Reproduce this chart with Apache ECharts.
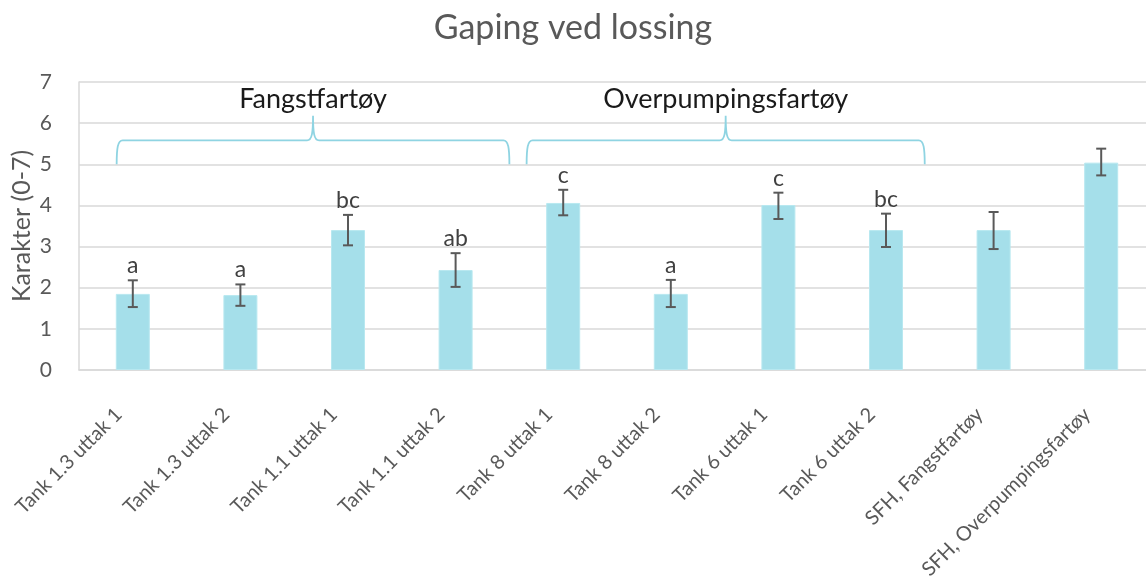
<!DOCTYPE html>
<html>
<head>
<meta charset="utf-8">
<script src="https://cdn.jsdelivr.net/npm/echarts@6/dist/echarts.min.js"></script>
<style>
html,body{margin:0;padding:0;background:#fff;}
#chart{width:1146px;height:576px;}
</style>
</head>
<body>
<div id="chart"></div>
<script>
// ---- data ----
var titleText = 'Gaping ved lossing';
var yAxisName = 'Karakter (0-7)';
var categories = ['Tank 1.3 uttak 1','Tank 1.3 uttak 2','Tank 1.1 uttak 1','Tank 1.1 uttak 2','Tank 8 uttak 1','Tank 8 uttak 2','Tank 6 uttak 1','Tank 6 uttak 2','SFH, Fangstfartøy','SFH, Overpumpingsfartøy'];
var values  = [1.85, 1.82, 3.40, 2.43, 4.06, 1.85, 4.01, 3.40, 3.40, 5.04];
var errLow  = [1.53, 1.56, 3.03, 2.02, 3.76, 1.53, 3.67, 2.99, 2.94, 4.73];
var errHigh = [2.18, 2.08, 3.77, 2.84, 4.38, 2.19, 4.31, 3.80, 3.84, 5.38];
var letters = ['a','a','bc','ab','c','a','c','bc','',''];
var groupNames = ['Fangstfartøy','Overpumpingsfartøy'];
var groupStart = [-0.15, 3.66];   // in category units
var groupEnd   = [3.50, 7.36];

var FONT = 'Lato, "Open Sans", sans-serif';
var chart = echarts.init(document.getElementById('chart'));

function bandX(api, t){
  var p0 = api.coord([0, 0]), p1 = api.coord([1, 0]);
  return p0[0] + t * (p1[0] - p0[0]);
}

var option = {
  backgroundColor: '#fff',
  animation: false,
  title: {
    text: titleText, left: 'center', top: 6,
    textStyle: {fontFamily: FONT, fontSize: 34, fontWeight: 'normal', color: '#595959'}
  },
  grid: {left: 79, top: 82, width: 1076, height: 288, containLabel: false, outerBoundsMode: 'none'},
  xAxis: {
    type: 'category', data: categories,
    axisTick: {show: false},
    axisLine: {lineStyle: {color: '#d9d9d9', width: 1.5}},
    axisLabel: {interval: 0, rotate: 45, margin: 27, padding: [0, 20, 0, 0], fontFamily: FONT, fontSize: 20, color: '#595959'}
  },
  yAxis: {
    type: 'value', min: 0, max: 7, interval: 1,
    name: yAxisName, nameLocation: 'middle', nameGap: 45, nameMoveOverlap: false,
    nameTextStyle: {fontFamily: FONT, fontSize: 25, color: '#595959'},
    axisLine: {show: true, lineStyle: {color: '#d9d9d9', width: 1.5}},
    axisTick: {show: false},
    splitLine: {lineStyle: {color: '#d9d9d9', width: 1.5}},
    axisLabel: {margin: 27, fontFamily: FONT, fontSize: 21, color: '#595959'}
  },
  series: [
    {
      type: 'bar', data: values, barWidth: 34,
      itemStyle: {color: '#a5dfea', borderColor: '#b8e8f0', borderWidth: 1},
      silent: true
    },
    {
      type: 'custom',
      data: values.map(function(v, i){ return [i, errLow[i], errHigh[i]]; }),
      encode: {x: 0, y: [1, 2]},
      renderItem: function(params, api){
        var i = params.dataIndex;
        var lo = api.coord([i, errLow[i]]);
        var hi = api.coord([i, errHigh[i]]);
        var x = lo[0], cap = 5;
        var st = {stroke: '#595959', lineWidth: 2};
        var children = [
          {type: 'line', shape: {x1: x, y1: lo[1], x2: x, y2: hi[1]}, style: st},
          {type: 'line', shape: {x1: x - cap, y1: lo[1], x2: x + cap, y2: lo[1]}, style: st},
          {type: 'line', shape: {x1: x - cap, y1: hi[1], x2: x + cap, y2: hi[1]}, style: st}
        ];
        if (letters[i]) {
          children.push({type: 'text', style: {text: letters[i], x: x, y: hi[1] - 3,
            textAlign: 'center', textVerticalAlign: 'bottom',
            fontFamily: FONT, fontSize: 23, fill: '#404040'}});
        }
        return {type: 'group', children: children};
      },
      z: 5
    },
    {
      type: 'custom',
      data: groupNames.map(function(n, i){ return [i, 5]; }),
      encode: {x: 0, y: 1},
      renderItem: function(params, api){
        var g = params.dataIndex;
        var x0 = bandX(api, groupStart[g]);
        var x1 = bandX(api, groupEnd[g]);
        var xm = (x0 + x1) / 2;
        var yb = api.coord([0, 5])[1];
        var yh = api.coord([0, 5.58])[1];
        var yt = api.coord([0, 6.18])[1];
        var d = 'M' + x0 + ' ' + yb +
          ' C' + x0 + ' ' + (yh + 8) + ' ' + (x0 + 1) + ' ' + yh + ' ' + (x0 + 6) + ' ' + yh +
          ' L' + (xm - 6) + ' ' + yh +
          ' C' + (xm - 1) + ' ' + yh + ' ' + xm + ' ' + (yh - 8) + ' ' + xm + ' ' + yt +
          ' C' + xm + ' ' + (yh - 8) + ' ' + (xm + 1) + ' ' + yh + ' ' + (xm + 6) + ' ' + yh +
          ' L' + (x1 - 6) + ' ' + yh +
          ' C' + (x1 - 1) + ' ' + yh + ' ' + x1 + ' ' + (yh + 8) + ' ' + x1 + ' ' + yb;
        var ylab = api.coord([0, 6.57])[1];
        return {type: 'group', children: [
          {type: 'path', shape: {pathData: d}, style: {stroke: '#8fd4e2', lineWidth: 1.8, fill: null}},
          {type: 'text', style: {text: groupNames[g], x: xm, y: ylab, textAlign: 'center', textVerticalAlign: 'middle',
            fontFamily: FONT, fontSize: 27, fill: '#1a1a1a'}}
        ]};
      },
      z: 6
    }
  ]
};
chart.setOption(option);
</script>
</body>
</html>
